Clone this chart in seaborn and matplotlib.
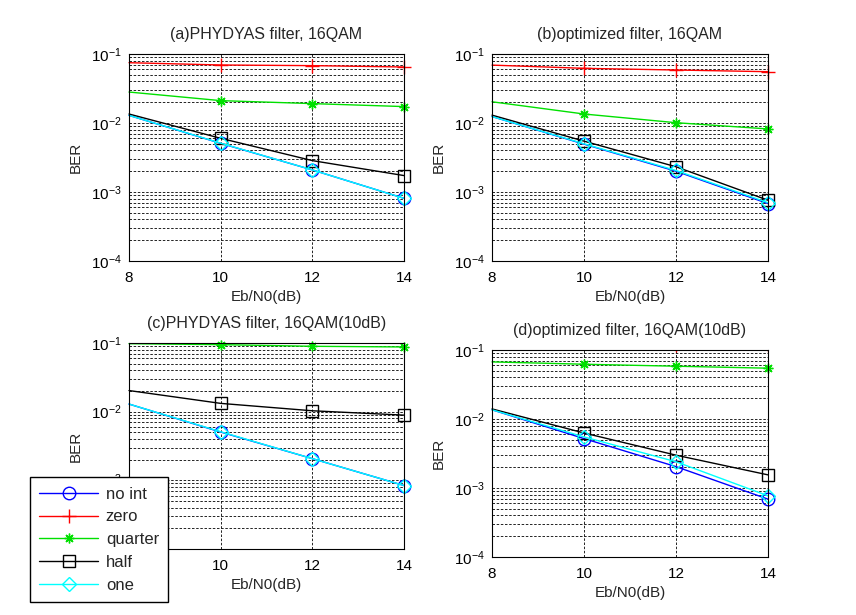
import matplotlib
matplotlib.use("Agg")
import matplotlib.pyplot as plt
import seaborn as sns

# Eb/N0 points (dB)
ebn0 = [8, 10, 12, 14]

series_names = ["no int", "zero", "quarter", "half", "one"]

# (a) PHYDYAS filter, 16QAM
a_noint = [0.0129, 0.00507, 0.00209, 0.00081]
a_zero = [0.0748, 0.0693, 0.0678, 0.0648]
a_quarter = [0.0281, 0.0211, 0.0191, 0.0173]
a_half = [0.0135, 0.0060, 0.00285, 0.00173]
a_one = [0.0129, 0.0051, 0.00209, 0.00081]

# (b) optimized filter, 16QAM
b_noint = [0.0124, 0.00494, 0.0020, 0.00068]
b_zero = [0.069, 0.062, 0.0586, 0.0554]
b_quarter = [0.0203, 0.0135, 0.0101, 0.0082]
b_half = [0.0130, 0.00546, 0.00232, 0.00076]
b_one = [0.0124, 0.0050, 0.00205, 0.00070]

# (c) PHYDYAS filter, 16QAM(10dB)  -- zero lies above the plotted range
c_noint = [0.0129, 0.00505, 0.00207, 0.00084]
c_zero = [0.16, 0.155, 0.15, 0.148]
c_quarter = [0.0977, 0.0946, 0.0895, 0.0875]
c_half = [0.0203, 0.0132, 0.0103, 0.0089]
c_one = [0.0129, 0.0051, 0.00207, 0.00084]

# (d) optimized filter, 16QAM(10dB)  -- zero lies above the plotted range
d_noint = [0.0136, 0.0052, 0.00204, 0.00069]
d_zero = [0.13, 0.125, 0.12, 0.118]
d_quarter = [0.0672, 0.0622, 0.0582, 0.0545]
d_half = [0.0140, 0.00627, 0.00299, 0.00155]
d_one = [0.0136, 0.0055, 0.0024, 0.00077]

panels = [
    ("(a)PHYDYAS filter, 16QAM", [a_noint, a_zero, a_quarter, a_half, a_one]),
    ("(b)optimized filter, 16QAM", [b_noint, b_zero, b_quarter, b_half, b_one]),
    ("(c)PHYDYAS filter, 16QAM(10dB)", [c_noint, c_zero, c_quarter, c_half, c_one]),
    ("(d)optimized filter, 16QAM(10dB)", [d_noint, d_zero, d_quarter, d_half, d_one]),
]

# matlab-ish markers, '*' drawn as an 8-arm asterisk
styles = {
    "no int": dict(color="#0000FF", marker="o", markersize=9),
    "zero": dict(color="#FF0000", marker="+", markersize=10),
    "quarter": dict(color="#00E000", marker=(8, 2, 0), markersize=7),
    "half": dict(color="#000000", marker="s", markersize=8.5),
    "one": dict(color="#00FFFF", marker="D", markersize=7),
}

sns.set_theme(style="white")
plt.rcParams["font.family"] = ["Liberation Sans", "DejaVu Sans"]
plt.rcParams["mathtext.fontset"] = "custom"
plt.rcParams["mathtext.rm"] = "Liberation Sans"
plt.rcParams["mathtext.it"] = "Liberation Sans:italic"

fig = plt.figure(figsize=(8.56, 6.15), dpi=100)
fig.patch.set_facecolor("white")

positions = [
    [0.1507, 0.5756, 0.3213, 0.3366],
    [0.5748, 0.5756, 0.3224, 0.3366],
    [0.1507, 0.1073, 0.3213, 0.3350],
    [0.5748, 0.0943, 0.3224, 0.3366],
]

axes = []
for pos, (title, data) in zip(positions, panels):
    ax = fig.add_axes(pos)
    ax.set_yscale("log")
    for name, vals in zip(series_names, data):
        st = styles[name]
        sns.lineplot(x=ebn0, y=vals, ax=ax, color=st["color"], marker=st["marker"],
                     markersize=st["markersize"], markerfacecolor="none",
                     markeredgecolor=st["color"], markeredgewidth=1.0,
                     markevery=[1, 2, 3], lw=1.0, label=name, legend=False,
                     clip_on=max(vals) > 0.1)
    ax.set_xlim(8, 14)
    ax.set_ylim(1e-4, 1e-1)
    ax.set_xticks([8, 10, 12, 14])
    ax.set_yticks([1e-4, 1e-3, 1e-2, 1e-1])
    ax.grid(True, which="major", axis="both", color="black", ls=(0, (3, 2)), lw=0.6)
    ax.yaxis.grid(True, which="minor", color="black", ls=(0, (3, 2)), lw=0.6)
    ax.tick_params(which="both", direction="in", labelsize=11, colors="black")
    ax.tick_params(axis="x", which="major", length=4, pad=7)
    ax.tick_params(axis="y", which="major", length=4, pad=5)
    ax.tick_params(which="minor", length=2)
    for sp in ax.spines.values():
        sp.set_color("black")
        sp.set_linewidth(0.8)
    ax.set_title(title, fontsize=11.5, pad=11)
    ax.set_xlabel("Eb/N0(dB)", fontsize=11, labelpad=4)
    ax.set_ylabel("BER", fontsize=11, labelpad=6)
    axes.append(ax)

handles = axes[2].get_lines()[:5]
fig.legend(handles, series_names, loc="lower left", bbox_to_anchor=(0.035, 0.021),
           borderaxespad=0, fontsize=12, frameon=True, fancybox=False,
           edgecolor="black", framealpha=1, handlelength=3.55, handletextpad=0.45,
           labelspacing=0.47, borderpad=0.55, numpoints=1)

fig.savefig("out.png", dpi=100, facecolor="white")
